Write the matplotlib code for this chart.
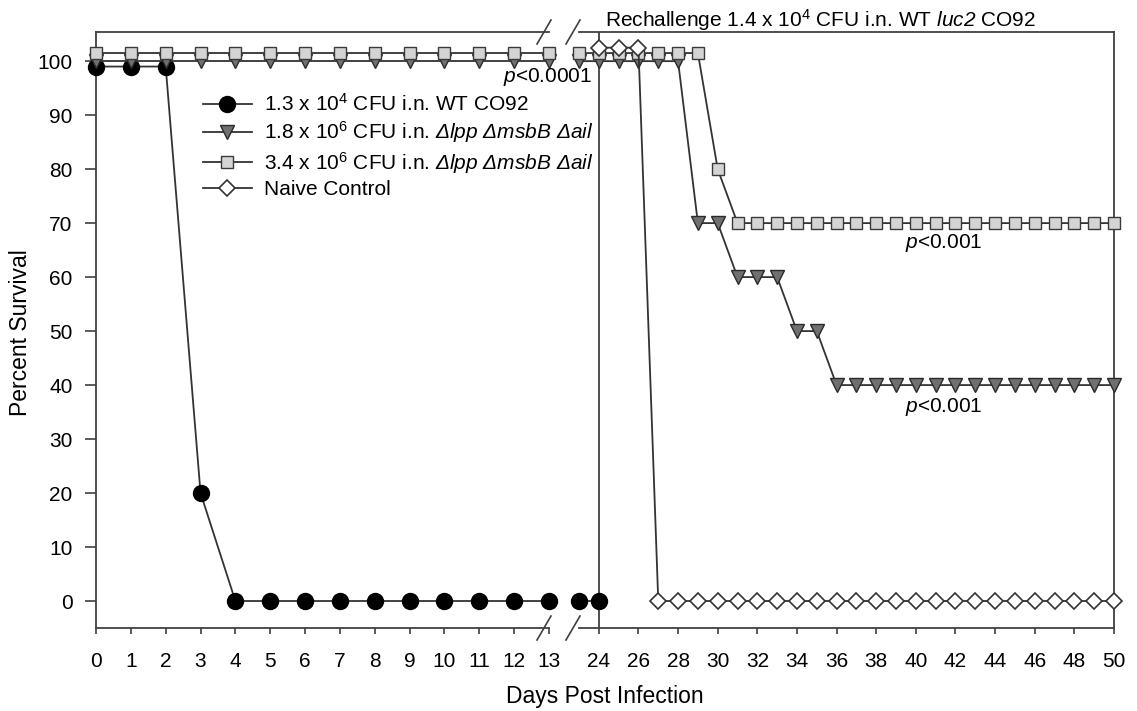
import matplotlib
matplotlib.use("Agg")
import matplotlib.pyplot as plt
import numpy as np

plt.rcParams['font.family'] = ['Liberation Sans', 'DejaVu Sans']
plt.rcParams['mathtext.fontset'] = 'custom'
plt.rcParams['mathtext.rm'] = 'Liberation Sans'
plt.rcParams['mathtext.it'] = 'Liberation Sans:italic'
plt.rcParams['mathtext.sf'] = 'Liberation Sans:italic'
plt.rcParams['mathtext.bf'] = 'Liberation Sans:bold'

# ---------------- data ----------------
wt_days = [0, 1, 2, 3, 4, 5, 6, 7, 8, 9, 10, 11, 12, 13, 23, 24]
wt_surv = [99, 99, 99, 20, 0, 0, 0, 0, 0, 0, 0, 0, 0, 0, 0, 0]

mut18_days = list(range(0, 14)) + list(range(23, 51))
mut18_surv = ([100] * 14 + [100] * 6 + [70, 70] + [60, 60, 60] + [50, 50]
              + [40] * 15)

mut34_days = list(range(0, 14)) + list(range(23, 51))
mut34_surv = [101.5] * 14 + [101.5] * 7 + [80] + [70] * 20

naive_days = list(range(24, 51))
naive_surv = [102.5, 102.5, 102.5] + [0] * 24

labels = [r"1.3 x 10$^4$ CFU i.n. WT CO92",
          r"1.8 x 10$^6$ CFU i.n. $\mathsf{Δlpp\ ΔmsbB\ Δail}$",
          r"3.4 x 10$^6$ CFU i.n. $\mathsf{Δlpp\ ΔmsbB\ Δail}$",
          "Naive Control"]

x1_ticks = list(range(0, 14))
x2_ticks = list(range(24, 51, 2))
y_ticks = list(range(0, 101, 10))

# ---------------- figure ----------------
W, H = 1137, 711
fig = plt.figure(figsize=(W / 100, H / 100), dpi=100)

def fx(px):
    return px / W

def fy(py):
    return 1 - py / H

top_px, bot_px = 32, 628
ax1 = fig.add_axes([fx(96), fy(bot_px), fx(549) - fx(96), fy(top_px) - fy(bot_px)])
ax2 = fig.add_axes([fx(579), fy(bot_px), fx(1114) - fx(579), fy(top_px) - fy(bot_px)])

ylim = (-5.0, 105.4)
line_col = '#333333'
spine_col = '#404040'

styles = [
    dict(marker='o', ms=11.5, mfc='black', mec='black'),
    dict(marker='v', ms=10, mfc='#707070', mec='#2a2a2a', mew=1.0),
    dict(marker='s', ms=9, mfc='#d4d4d4', mec='#3a3a3a', mew=1.0),
    dict(marker='D', ms=8.3, mfc='white', mec='#333333', mew=1.2),
]
series = [(wt_days, wt_surv), (mut18_days, mut18_surv),
          (mut34_days, mut34_surv), (naive_days, naive_surv)]

handles = []
for i, ((d, s), st) in enumerate(zip(series, styles)):
    d = np.array(d); s = np.array(s, dtype=float)
    m1 = d <= 13
    m2 = d >= 23
    if m1.any():
        ax1.plot(d[m1], s[m1], color=line_col, lw=1.3, clip_on=False, zorder=3 + i, **st)
    h, = ax2.plot(d[m2], s[m2], color=line_col, lw=1.3, clip_on=False, zorder=3 + i, **st)
    handles.append(h)

for ax, xl in [(ax1, (0, 13)), (ax2, (23, 50))]:
    ax.set_xlim(*xl)
    ax.set_ylim(*ylim)
    ax.patch.set_alpha(0)
    for sp in ax.spines.values():
        sp.set_color(spine_col)
        sp.set_linewidth(1.3)

ax1.spines['right'].set_visible(False)
ax2.spines['left'].set_visible(False)

ax1.set_xticks(x1_ticks)
ax2.set_xticks(x2_ticks)
ax1.set_yticks(y_ticks)
ax2.set_yticks(y_ticks)

for ax in (ax1, ax2):
    ax.tick_params(axis='x', which='major', direction='out', length=4, width=1.2,
                   color=spine_col, labelsize=15, pad=13)
ax1.tick_params(axis='y', which='major', direction='out', length=8, width=1.2,
                color=spine_col, labelsize=15, pad=9)
ax2.tick_params(axis='y', which='both', left=False, right=False,
                labelleft=False, labelright=False)

# rechallenge line at day 24
ax2.axvline(24, color=spine_col, lw=1.3, zorder=2)

# break marks
for cx in (544, 573):
    for cy in (top_px, bot_px):
        fig.add_artist(plt.Line2D([fx(cx - 7), fx(cx + 7)], [fy(cy + 12), fy(cy - 12)],
                                  color=spine_col, lw=1.2))

# annotations
ax2.text(24.3, 106.3, r"Rechallenge 1.4 x 10$^4$ CFU i.n. WT $\mathsf{luc2}$ CO92",
         fontsize=15, ha='left', va='baseline', clip_on=False)
ax2.text(23.66, 97, r"$\mathsf{p}$<0.0001", fontsize=15, ha='right', va='center', clip_on=False)
ax2.text(39.45, 66.3, r"$\mathsf{p}$<0.001", fontsize=15, ha='left', va='center')
ax2.text(39.45, 35.9, r"$\mathsf{p}$<0.001", fontsize=15, ha='left', va='center')

fig.text(fx(605), fy(697), "Days Post Infection", fontsize=16.5, ha='center', va='center')
fig.text(fx(21), fy(333), "Percent Survival", fontsize=16.5, ha='center', va='center',
         rotation=90)

fig.legend(handles, labels, loc='upper left', bbox_to_anchor=(fx(203), fy(93)),
           bbox_transform=fig.transFigure, frameon=False, fontsize=15,
           handlelength=2.35, handletextpad=0.6, labelspacing=0.22,
           borderpad=0, borderaxespad=0)

fig.savefig("out.png", dpi=100)
